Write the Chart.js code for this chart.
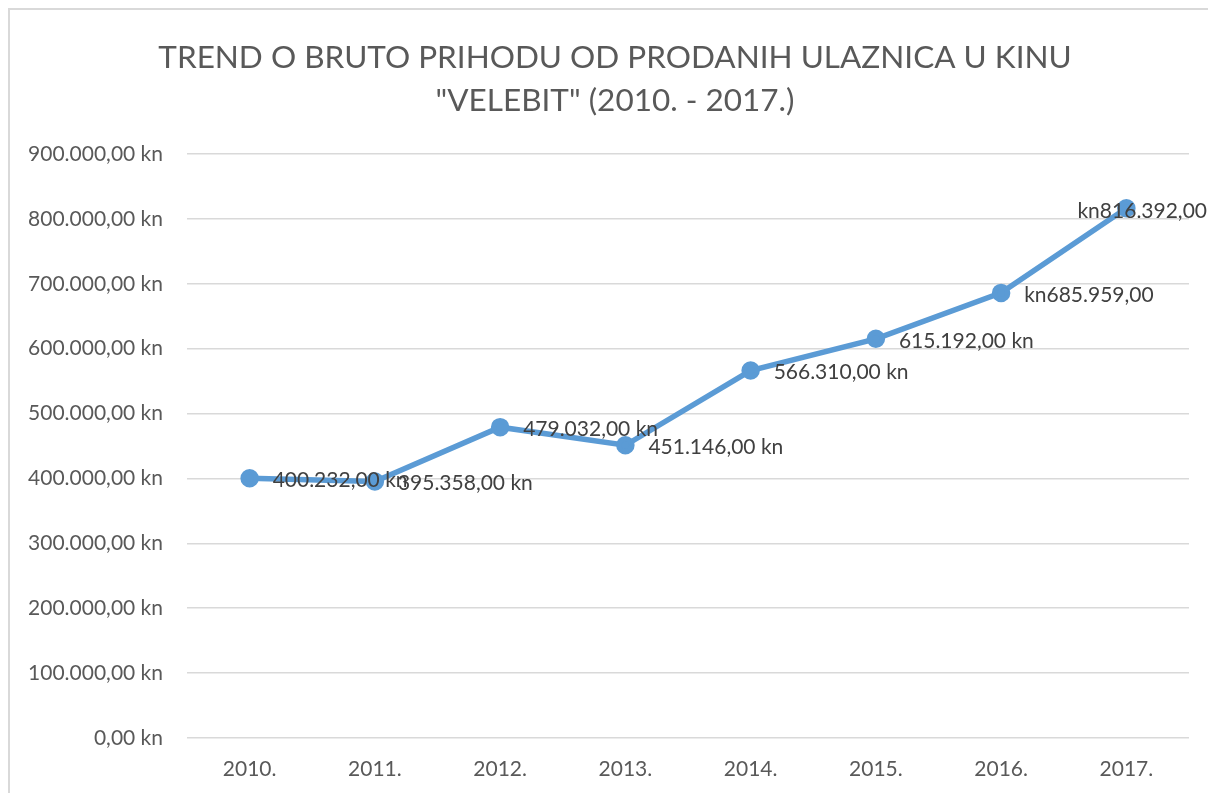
<!DOCTYPE html>
<html><head><meta charset="utf-8">
<script src="https://cdn.jsdelivr.net/npm/chart.js@4/dist/chart.umd.min.js"></script>
<style>html,body{margin:0;padding:0;background:#fff;}#wrap{width:1208px;height:793px;position:relative;}</style>
</head><body><div id="wrap"><canvas id="c" width="1208" height="793"></canvas></div>
<script>
const categories = ["2010.","2011.","2012.","2013.","2014.","2015.","2016.","2017."];
const revenue = [400232, 395358, 479032, 451146, 566310, 615192, 685959, 816392];
const dataLabels = ["400.232,00 kn","395.358,00 kn","479.032,00 kn","451.146,00 kn","566.310,00 kn","615.192,00 kn","kn685.959,00","kn816.392,00"];
const titleLines = ["TREND O BRUTO PRIHODU OD PRODANIH ULAZNICA U KINU", "\"VELEBIT\" (2010. - 2017.)"];
const FONT = "Lato, 'Open Sans', sans-serif";

function fmtKn(v){
  const s = Math.round(v).toString().replace(/\B(?=(\d{3})+(?!\d))/g, ".");
  return s + ",00 kn";
}

const deco = {
  id: 'deco',
  beforeDraw(chart){
    const ctx = chart.ctx;
    ctx.save();
    ctx.strokeStyle = '#d9d9d9';
    ctx.lineWidth = 2;
    ctx.beginPath();
    ctx.moveTo(9, 900); ctx.lineTo(9, 9); ctx.lineTo(1300, 9);
    ctx.stroke();
    ctx.fillStyle = '#595959';
    ctx.font = "31.5px " + FONT;
    ctx.textAlign = 'center';
    ctx.textBaseline = 'middle';
    ctx.fillText(titleLines[0], 615, 58);
    ctx.fillText(titleLines[1], 615, 101);
    ctx.restore();
  },
  afterDatasetsDraw(chart){
    const ctx = chart.ctx;
    const meta = chart.getDatasetMeta(0);
    ctx.save();
    ctx.font = "21px " + FONT;
    ctx.fillStyle = '#404040';
    ctx.textAlign = 'left';
    ctx.textBaseline = 'middle';
    meta.data.forEach((pt, i) => {
      const t = dataLabels[i];
      const w = ctx.measureText(t).width;
      let x = pt.x + 23;
      let y = pt.y + 2;
      if (x + w > chart.width) { x = chart.width - 1 - w; y = pt.y + 3; }
      ctx.fillText(t, x, y);
    });
    ctx.restore();
  }
};

new Chart(document.getElementById('c'), {
  type: 'line',
  data: {
    labels: categories,
    datasets: [{
      data: revenue,
      borderColor: '#5B9BD5',
      backgroundColor: '#5B9BD5',
      borderWidth: 5.5,
      pointRadius: 6.5,
      pointHoverRadius: 6.5,
      pointBackgroundColor: '#5B9BD5',
      pointBorderColor: '#5B9BD5',
      tension: 0,
      fill: false
    }]
  },
  options: {
    responsive: false,
    animation: false,
    layout: { padding: { top: 154, right: 19, left: 0, bottom: 0 } },
    plugins: { legend: { display: false }, title: { display: false }, tooltip: { enabled: false } },
    scales: {
      x: {
        offset: true,
        grid: { display: false, drawTicks: false },
        border: { display: false },
        ticks: { color: '#595959', font: { family: FONT, size: 21 }, padding: 19 },
        afterFit(s){ s.height = 55; }
      },
      y: {
        min: 0, max: 900000,
        grid: { color: '#d9d9d9', lineWidth: 1.5, drawTicks: false },
        border: { display: false },
        ticks: { stepSize: 100000, color: '#595959', font: { family: FONT, size: 21 }, padding: 24, callback: v => fmtKn(v) },
        afterFit(s){ s.width = 187; }
      }
    }
  },
  plugins: [deco]
});
</script>
</body></html>
